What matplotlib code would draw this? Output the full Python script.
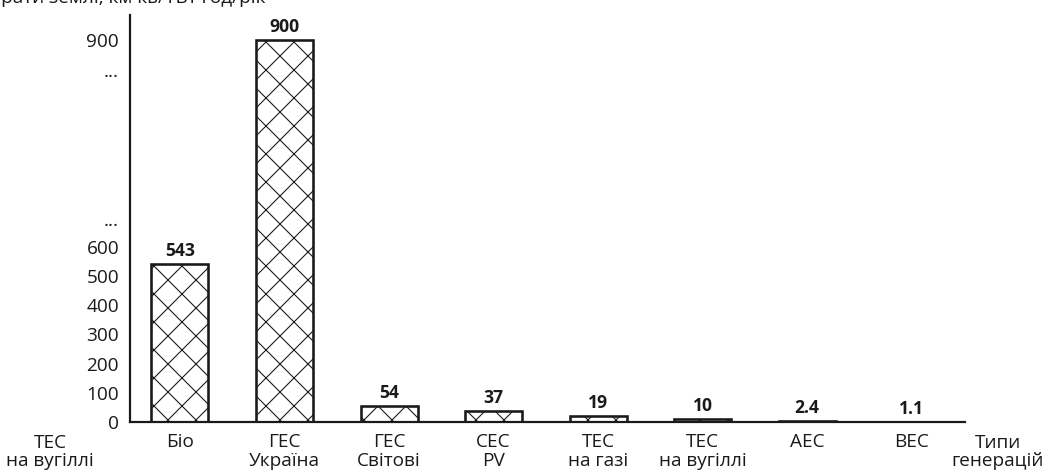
import numpy as np
import matplotlib
matplotlib.use("Agg")
import matplotlib.pyplot as plt

DPI = 84  # hatch spacing follows the dpi, 84 gives ~14 px cells

def px(p):
    # pixel size -> points
    return p * 72 / DPI

plt.rcParams['font.family'] = ['Open Sans', 'DejaVu Sans']
plt.rcParams['hatch.linewidth'] = px(1.1)
plt.rcParams['hatch.color'] = '#222222'

# land use by generation type
categories = ['Біо', 'ГЕС\nУкраїна', 'ГЕС\nСвітові', 'СЕС\nPV', 'ТЕС\nна газі',
              'ТЕС\nна вугіллі', 'АЕС', 'ВЕС']
values = [543, 900, 54, 37, 19, 10, 2.4, 1.1]
value_labels = ['543', '900', '54', '37', '19', '10', '2.4', '1.1']
ytick_vals = [0, 100, 200, 300, 400, 500, 600, 640, 856, 900]
ytick_labels = ['0', '100', '200', '300', '400', '500', '600', '...', '...', '900']
title = 'Витрати землі, км кв/ТВт·год/рік'

# compressed axis above 600
brk = 600
k = 2.367

def fwd(v):
    v = np.asarray(v, dtype=float)
    return np.where(v <= brk, v, brk + (v - brk) * k)

def inv(t):
    t = np.asarray(t, dtype=float)
    return np.where(t <= brk, t, brk + (t - brk) / k)

W, H = 1049, 475
fig = plt.figure(figsize=(W / DPI, H / DPI), dpi=DPI)
ax = fig.add_axes([130 / W, 1 - 422 / H, (965 - 130) / W, (422 - 15) / H])
ax.set_yscale('function', functions=(fwd, inv))

x = np.arange(len(categories))
ax.bar(x, values, width=0.545, color='white', edgecolor='#1a1a1a',
       linewidth=px(2.6), hatch='x')

for xi, v, lab in zip(x, values, value_labels):
    ax.annotate(lab, (xi, v), xytext=(0, px(4)), textcoords='offset points',
                ha='center', va='bottom', fontsize=px(17.5), fontweight='bold',
                color='#1a1a1a')

ax.set_xlim(-0.478, 7.51)
ax.set_ylim(0, 936)
ax.set_yticks(ytick_vals)
ax.set_yticklabels(ytick_labels)
ax.set_xticks(x)
ax.set_xticklabels(categories, linespacing=1.05)
ax.tick_params(axis='y', length=0, pad=px(11), labelsize=px(19), labelcolor='#1a1a1a')
ax.tick_params(axis='x', length=0, pad=px(11), labelsize=px(19), labelcolor='#1a1a1a')

for s in ['top', 'right']:
    ax.spines[s].set_visible(False)
for s in ['left', 'bottom']:
    ax.spines[s].set_linewidth(px(2.2))
    ax.spines[s].set_color('#1a1a1a')

fig.text(50 / W, 1 - 452 / H, 'ТЕС\nна вугіллі', ha='center', va='center',
         fontsize=px(19), color='#1a1a1a', linespacing=1.05)
fig.text(998 / W, 1 - 452 / H, 'Типи\nгенерацій', ha='center', va='center',
         fontsize=px(19), color='#1a1a1a', linespacing=1.05)
fig.text(265 / W, 1 - 3 / H, title, ha='right', va='baseline',
         fontsize=px(19), color='#1a1a1a')

fig.savefig('out.png', dpi=DPI)
